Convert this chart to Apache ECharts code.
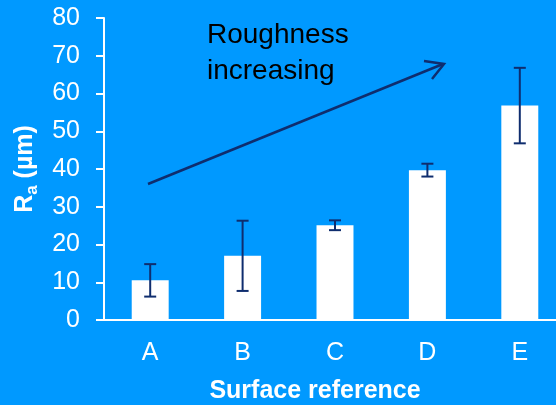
<!DOCTYPE html>
<html>
<head>
<meta charset="utf-8">
<script src="https://cdn.jsdelivr.net/npm/echarts@6/dist/echarts.min.js"></script>
<style>html,body{margin:0;padding:0;background:#0099FF;}#c{width:556px;height:405px;}</style>
</head>
<body>
<div id="c"></div>
<script>
var categories = ['A', 'B', 'C', 'D', 'E'];
var raValues = [10.5, 17.0, 25.1, 39.7, 56.8];
var raErrors = [4.3, 9.3, 1.3, 1.7, 10.0];
var yTicks = [0, 10, 20, 30, 40, 50, 60, 70, 80];

var navy = '#0f2d6e';
var chart = echarts.init(document.getElementById('c'), null, {renderer: 'canvas'});
var errData = categories.map(function (c, i) { return [i, raValues[i] - raErrors[i], raValues[i] + raErrors[i]]; });

chart.setOption({
  backgroundColor: '#0099FF',
  animation: false,
  textStyle: {fontFamily: 'Liberation Sans, Arial, sans-serif'},
  grid: {left: 104, top: 18, height: 302, width: 462, containLabel: false, outerBoundsMode: 'none'},
  xAxis: {
    type: 'category',
    data: categories,
    name: 'Surface reference',
    nameLocation: 'middle',
    nameGap: 59,
    nameTextStyle: {color: '#fff', fontSize: 25, fontWeight: 'bold', padding: [0, 40, 0, 0]},
    axisLine: {lineStyle: {color: '#fff', width: 2}},
    axisTick: {length: 6, lineStyle: {color: '#fff', width: 2}},
    axisLabel: {color: '#fff', fontSize: 25, margin: 21}
  },
  yAxis: {
    type: 'value',
    min: yTicks[0],
    max: yTicks[yTicks.length - 1],
    interval: 10,
    name: '{r|R}{s|a}{r| (µm)}',
    nameLocation: 'middle',
    nameGap: 58,
    nameTextStyle: {
      color: '#fff',
      rich: {
        r: {color: '#fff', fontSize: 25, fontWeight: 'bold', lineHeight: 32, fontFamily: 'Liberation Sans, Arial, sans-serif'},
        s: {color: '#fff', fontSize: 17, fontWeight: 'bold', lineHeight: 32, verticalAlign: 'bottom', padding: [12, 0, 0, 0], fontFamily: 'Liberation Sans, Arial, sans-serif'}
      }
    },
    axisLine: {show: true, lineStyle: {color: '#fff', width: 2}},
    axisTick: {show: true, length: 8, lineStyle: {color: '#fff', width: 2}},
    axisLabel: {color: '#fff', fontSize: 25, margin: 24},
    splitLine: {show: false}
  },
  series: [
    {
      type: 'bar',
      data: raValues,
      barWidth: '40%',
      itemStyle: {color: '#ffffff'}
    },
    {
      type: 'custom',
      data: errData,
      z: 10,
      renderItem: function (params, api) {
        var x = api.value(0);
        var lo = api.coord([x, api.value(1)]);
        var hi = api.coord([x, api.value(2)]);
        var hw = 6;
        var st = {stroke: navy, lineWidth: 2};
        return {
          type: 'group',
          children: [
            {type: 'line', shape: {x1: lo[0], y1: lo[1], x2: hi[0], y2: hi[1]}, style: st},
            {type: 'line', shape: {x1: lo[0] - hw, y1: lo[1], x2: lo[0] + hw, y2: lo[1]}, style: st},
            {type: 'line', shape: {x1: hi[0] - hw, y1: hi[1], x2: hi[0] + hw, y2: hi[1]}, style: st}
          ]
        };
      }
    }
  ],
  graphic: [
    {type: 'text', left: 207, top: 21, style: {text: 'Roughness', fill: '#000', font: '28px Liberation Sans, Arial, sans-serif'}},
    {type: 'text', left: 207, top: 57, style: {text: 'increasing', fill: '#000', font: '28px Liberation Sans, Arial, sans-serif'}},
    {type: 'line', shape: {x1: 148, y1: 184, x2: 443, y2: 64}, style: {stroke: navy, lineWidth: 2.5}},
    {type: 'polyline', shape: {points: [[424, 61], [444, 64], [432, 79]]}, style: {stroke: navy, lineWidth: 2.5, fill: null}}
  ]
});
</script>
</body>
</html>
